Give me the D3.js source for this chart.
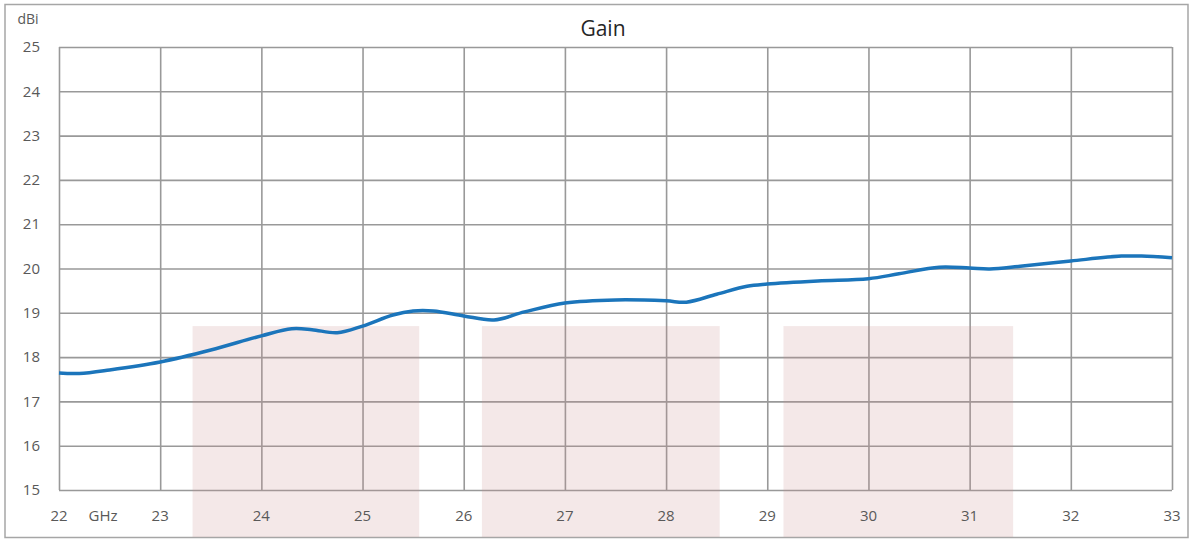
<!DOCTYPE html>
<html><head><meta charset="utf-8">
<script src="https://cdn.jsdelivr.net/npm/d3@7"></script>
<style>body{margin:0;background:#fff}</style>
</head><body><svg id="c" width="1195" height="539"></svg>
<script>
const freqs = [22, 22.2, 22.5, 23, 23.5, 24, 24.3, 24.5, 24.75, 25, 25.3, 25.5, 25.7, 26, 26.3, 26.6, 27, 27.5, 28, 28.2, 28.5, 28.8, 29, 29.5, 30, 30.3, 30.7, 31, 31.2, 31.5, 32, 32.5, 32.7, 33];
const gains = [17.64, 17.63, 17.71, 17.89, 18.16, 18.48, 18.64, 18.62, 18.55, 18.70, 18.95, 19.04, 19.04, 18.93, 18.84, 19.02, 19.22, 19.29, 19.27, 19.24, 19.42, 19.60, 19.65, 19.72, 19.77, 19.88, 20.03, 20.01, 19.99, 20.05, 20.17, 20.28, 20.28, 20.24];
const bandStart = [23.32, 26.18, 29.16];
const bandEnd = [25.56, 28.53, 31.43];
const bandTop = 18.7;
const xTicks = [22, 23, 24, 25, 26, 27, 28, 29, 30, 31, 32, 33];
const yTicks = [15, 16, 17, 18, 19, 20, 21, 22, 23, 24, 25];

const svg = d3.select("#c");
const L = 59, R = 1172, T = 47, B = 490;
const x = d3.scaleLinear().domain([22, 33]).range([L, R]);
const y = d3.scaleLinear().domain([15, 25]).range([B, T]);
const font = "'Open Sans', sans-serif";

// outer frame
svg.append("rect").attr("x", 5).attr("y", 4.5).attr("width", 1183).attr("height", 533)
  .attr("fill", "#fff").attr("stroke", "#a6a6a6").attr("stroke-width", 1.5);

// grid
const g = svg.append("g");
g.append("g").attr("transform", `translate(0,${B})`)
  .call(d3.axisBottom(x).tickValues(xTicks).tickSize(-(B - T)).tickFormat(""))
  .call(s => { s.select(".domain").remove(); s.selectAll("line").attr("stroke", "#999").attr("stroke-width", 1.6); });
g.append("g").attr("transform", `translate(${L},0)`)
  .call(d3.axisLeft(y).tickValues(yTicks).tickSize(-(R - L)).tickFormat(""))
  .call(s => { s.select(".domain").remove(); s.selectAll("line").attr("stroke", "#999").attr("stroke-width", 1.6); });

// bands
svg.append("g").selectAll("rect").data(bandStart).join("rect")
  .attr("x", (d) => x(d)).attr("width", (d, i) => x(bandEnd[i]) - x(d))
  .attr("y", y(bandTop)).attr("height", 537 - y(bandTop))
  .attr("fill", "rgb(200,140,140)").attr("fill-opacity", 0.2);

// line
const line = d3.line().x((d, i) => x(freqs[i])).y(d => y(d)).curve(d3.curveCatmullRom.alpha(0.5));
svg.append("path").datum(gains).attr("d", line)
  .attr("fill", "none").attr("stroke", "#1b75bb").attr("stroke-width", 3.5);

// tick labels
svg.append("g").selectAll("text").data(yTicks).join("text")
  .attr("x", 40).attr("y", d => y(d)).attr("dy", "0.35em").attr("text-anchor", "end")
  .attr("font-family", font).attr("font-size", 15).attr("fill", "#595959").text(d => d);
svg.append("g").selectAll("text").data(xTicks).join("text")
  .attr("x", d => x(d)).attr("y", 516).attr("dy", "0.35em").attr("text-anchor", "middle")
  .attr("font-family", font).attr("font-size", 15).attr("fill", "#595959").text(d => d);
svg.append("text").attr("x", 103).attr("y", 516).attr("dy", "0.35em").attr("text-anchor", "middle")
  .attr("font-family", font).attr("font-size", 15).attr("fill", "#595959").text("GHz");
svg.append("text").attr("x", 28).attr("y", 19).attr("dy", "0.35em").attr("text-anchor", "middle")
  .attr("font-family", font).attr("font-size", 14).attr("fill", "#595959").text("dBi");
svg.append("text").attr("x", 603).attr("y", 36).attr("text-anchor", "middle")
  .attr("font-family", font).attr("font-size", 21).attr("fill", "#262626").text("Gain");
</script></body></html>
